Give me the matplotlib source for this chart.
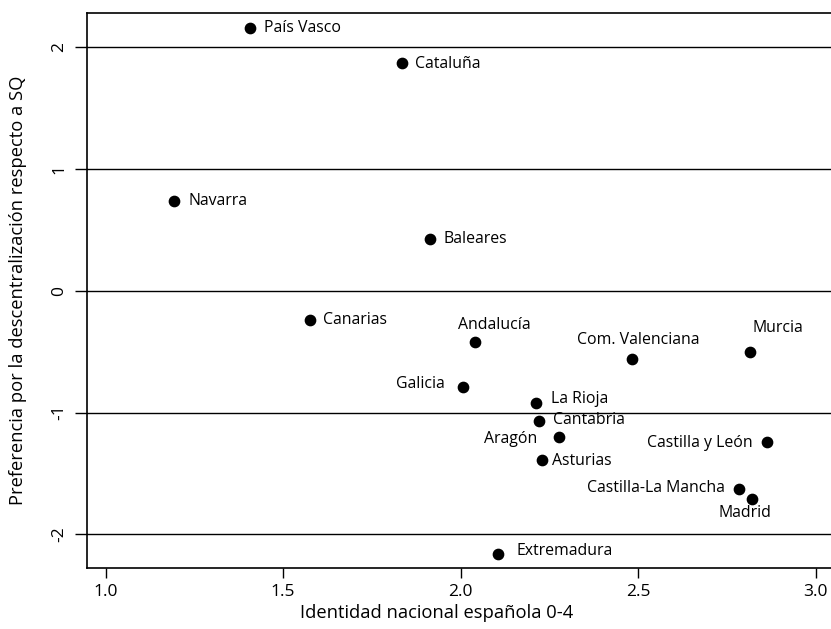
import matplotlib
matplotlib.use("Agg")
import matplotlib.pyplot as plt

plt.rcParams['font.family'] = ['Open Sans', 'DejaVu Sans']

# Comunidades autónomas: identidad nacional vs. preferencia por la descentralización
regions = ["País Vasco", "Cataluña", "Navarra", "Baleares", "Canarias",
           "Andalucía", "Com. Valenciana", "Murcia", "Galicia", "La Rioja",
           "Cantabria", "Aragón", "Asturias", "Castilla y León",
           "Castilla-La Mancha", "Madrid", "Extremadura"]
identidad = [1.407, 1.834, 1.193, 1.914, 1.576,
             2.041, 2.482, 2.815, 2.008, 2.213,
             2.222, 2.276, 2.229, 2.863,
             2.785, 2.820, 2.104]
preferencia = [2.156, 1.869, 0.740, 0.423, -0.240,
               -0.423, -0.560, -0.505, -0.790, -0.922,
               -1.072, -1.201, -1.390, -1.239,
               -1.630, -1.713, -2.162]

# label placement per region: (dx, dy) in pixels, horizontal alignment
label_pos = {
    "País Vasco": (14, 0, "left"),
    "Cataluña": (13, -1, "left"),
    "Navarra": (14, 0, "left"),
    "Baleares": (13, 0, "left"),
    "Canarias": (13, 0, "left"),
    "Andalucía": (19, 17, "center"),
    "Com. Valenciana": (7, 19, "center"),
    "Murcia": (28, 24, "center"),
    "Galicia": (-19, 3, "right"),
    "La Rioja": (15, 4, "left"),
    "Cantabria": (14, 1, "left"),
    "Aragón": (-21, -2, "right"),
    "Asturias": (10, -1, "left"),
    "Castilla y León": (-14, -1, "right"),
    "Castilla-La Mancha": (-14, 1, "right"),
    "Madrid": (-7, -14, "center"),
    "Extremadura": (19, 3, "left"),
}

fig = plt.figure(figsize=(8.31, 6.29), dpi=100)
ax = fig.add_axes([0.1041, 0.0970, 0.9004, 0.8823])

for yv in [-2, -1, 0, 1, 2]:
    ax.axhline(yv, color='black', lw=1.0, zorder=1)

ax.scatter(identidad, preferencia, s=55, color='black', zorder=3)

for name, xv, yv in zip(regions, identidad, preferencia):
    dx, dy, ha = label_pos[name]
    ax.annotate(name, (xv, yv), xytext=(dx, dy), textcoords='offset pixels',
                ha=ha, va='center', fontsize=11.4)

ax.set_xlim(0.946, 3.054)
ax.set_ylim(-2.277, 2.282)
ax.set_xticks([1.0, 1.5, 2.0, 2.5, 3.0])
ax.set_xticklabels(["1.0", "1.5", "2.0", "2.5", "3.0"])
ax.set_yticks([-2, -1, 0, 1, 2])
ax.set_yticklabels(["-2", "-1", "0", "1", "2"], rotation=90, va='center')
ax.tick_params(direction='out', width=1, labelsize=12.5)
ax.tick_params(axis='x', length=7.5, pad=4)
ax.tick_params(axis='y', length=9, pad=5)

for sp in ax.spines.values():
    sp.set_linewidth(1.2)

ax.set_xlabel("Identidad nacional española 0-4", fontsize=13.2)
ax.set_ylabel("Preferencia por la descentralización respecto a SQ", fontsize=13.2)
ax.xaxis.set_label_coords(0.4678, -0.064)
ax.yaxis.set_label_coords(-0.0795, 0.5)

fig.savefig("out.png", dpi=100)
